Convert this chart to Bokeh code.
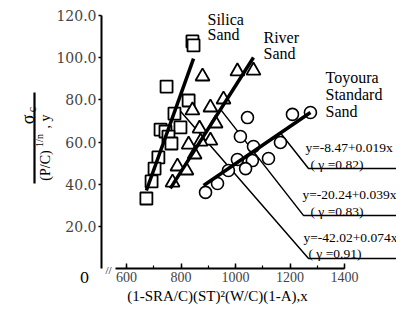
from math import pi
from bokeh.plotting import figure
from bokeh.models import Label, FixedTicker, PrintfTickFormatter
from bokeh.embed import file_html
from bokeh.resources import INLINE

# ---- data ----
silica_x = [842, 846, 747, 828, 776, 798, 725, 743, 754, 765, 717, 703, 692, 673]
silica_y = [107.7, 105.8, 86.3, 79.7, 73.5, 66.9, 65.9, 65.0, 62.6, 59.3, 52.7, 47.4, 41.3, 33.2]

river_x = [879, 1007, 1066, 956, 908, 842, 927, 868, 908, 872, 828, 850, 787, 820, 769]
river_y = [91.1, 93.5, 93.9, 80.2, 76.4, 75.0, 68.8, 66.4, 60.7, 60.2, 58.8, 54.1, 48.4, 46.5, 40.8]

toyoura_x = [1044, 1018, 1066, 1165, 1121, 1062, 1007, 1037, 974, 934, 890, 1209, 1275]
toyoura_y = [71.6, 62.6, 57.9, 59.8, 52.2, 51.2, 51.7, 47.4, 46.5, 40.3, 36.1, 73.1, 74.0]

# regression line end points (as drawn)
fit_xs = [[673, 846], [761, 1066], [883, 1275]]
fit_ys = [[37.0, 99.6], [38.0, 100.1], [39.4, 74.0]]

# leader lines from each fit to its equation
leader_xs = [[1165, 1268, 1700], [945, 1250, 1700], [783, 1268, 1700]]
leader_ys = [[64.3, 47.4, 47.4], [75.5, 25.1, 25.1], [76.8, 4.7, 4.7]]

group_names = [["Silica", "Sand"], ["River", "Sand"], ["Toyoura", "Standard", "Sand"]]
equations = ["y=-8.47+0.019x", "y=-20.24+0.039x", "y=-42.02+0.074x"]
coefficients = ["( γ =0.82)", "( γ =0.83)", "( γ =0.91)"]

x_ticks = [600, 800, 1000, 1200, 1400]
x_minor = [600, 700, 800, 900, 1000, 1100, 1200, 1300, 1400]
y_ticks = [20, 40, 60, 80, 100, 120]
x_title = "(1-SRA/C)(ST)²(W/C)(1-A),x"


# layout helper: picture pixel -> data position (annotations only)
def X(px):
    return 600 + (px - 126) / 0.2725


def Y(py):
    return (268 - py) / 2.108


SERIF = "Liberation Serif"
W, H = 396, 304

# the frame fills the whole canvas; the axes are pinned with fixed_location
p = figure(width=W, height=H, x_range=(X(0), X(W)), y_range=(Y(H), Y(0)),
           output_backend="svg", toolbar_location=None,
           min_border_left=0, min_border_right=0, min_border_top=0, min_border_bottom=0)
p.outline_line_color = None
p.grid.visible = False

xa = p.xaxis[0]
xa.fixed_location = 0
xa.bounds = (560, 1400)
xa.ticker = FixedTicker(ticks=x_ticks, minor_ticks=x_minor)
xa.major_tick_in = 5
xa.major_tick_out = 0
xa.minor_tick_in = 3
xa.minor_tick_out = 0
xa.axis_line_width = 1.8
xa.major_tick_line_width = 1.5
xa.minor_tick_line_width = 1.2
xa.major_label_standoff = 3
xa.major_label_text_font = SERIF
xa.major_label_text_font_size = "14px"

ya = p.yaxis[0]
ya.fixed_location = X(101)
ya.bounds = (0, 120)
ya.ticker = FixedTicker(ticks=y_ticks, minor_ticks=[])
ya.formatter = PrintfTickFormatter(format="%.1f")
ya.major_tick_in = 0
ya.major_tick_out = 3
ya.minor_tick_in = 0
ya.minor_tick_out = 0
ya.axis_line_width = 2
ya.major_tick_line_width = 1.5
ya.major_label_standoff = 2
ya.major_label_text_font = "DejaVu Serif"
ya.major_label_text_font_size = "14px"

p.multi_line(leader_xs, leader_ys, line_color="black", line_width=1.5)

p.scatter(silica_x, silica_y, marker="square", size=12, fill_color="white",
          line_color="black", line_width=1.8)
p.scatter(river_x, river_y, marker="triangle", size=14, fill_color="white",
          line_color="black", line_width=1.8)
p.scatter(toyoura_x, toyoura_y, marker="circle", size=12, fill_color="white",
          line_color="black", line_width=1.6)

p.multi_line(fit_xs, fit_ys, line_color="black", line_width=3.5)


def lab(text, px, py, size="16px", align="left", baseline="alphabetic", angle=0.0,
        font=SERIF):
    p.add_layout(Label(x=X(px), y=Y(py), text=text, text_font=font,
                       text_font_size=size, text_align=align, text_baseline=baseline,
                       angle=angle, text_color="black"))


for word, py in zip(group_names[0], [19, 34]):
    lab(word, 207, py)
for word, py in zip(group_names[1], [37, 53]):
    lab(word, 263, py)
for word, py in zip(group_names[2], [77, 94, 111]):
    lab(word, 325, py)

for eq, co, (ex, ey), (cx, cy) in zip(equations, coefficients,
                                      [(305, 147), (302, 194), (303, 237)],
                                      [(310, 164), (310, 211), (308, 253)]):
    lab(eq, ex, ey, size="13.5px")
    lab(co, cx, cy, size="13.5px")

# origin label and axis break
lab("0", 84, 277, size="15px", align="center", baseline="middle", font="DejaVu Serif")
lab("//", 108, 269, size="11px", align="center", baseline="middle")

# x title
lab(x_title, 217, 295, size="15px", align="center")

# y title as a rotated fraction
lab("σ", 27, 119, size="18px", align="center", baseline="middle", angle=pi / 2)
lab("c", 31, 109, size="12px", align="center", baseline="middle", angle=pi / 2)
p.segment(x0=[X(34)], y0=[Y(92)], x1=[X(34)], y1=[Y(183)],
          line_color="black", line_width=2.2)
lab("(P/C)", 45, 165, size="14px", align="center", baseline="middle", angle=pi / 2)
lab("1/n", 39, 140, size="10px", align="center", baseline="middle", angle=pi / 2)
lab(", y", 45, 121, size="14px", align="center", baseline="middle", angle=pi / 2)

open("out.html", "w").write(file_html(p, INLINE))
